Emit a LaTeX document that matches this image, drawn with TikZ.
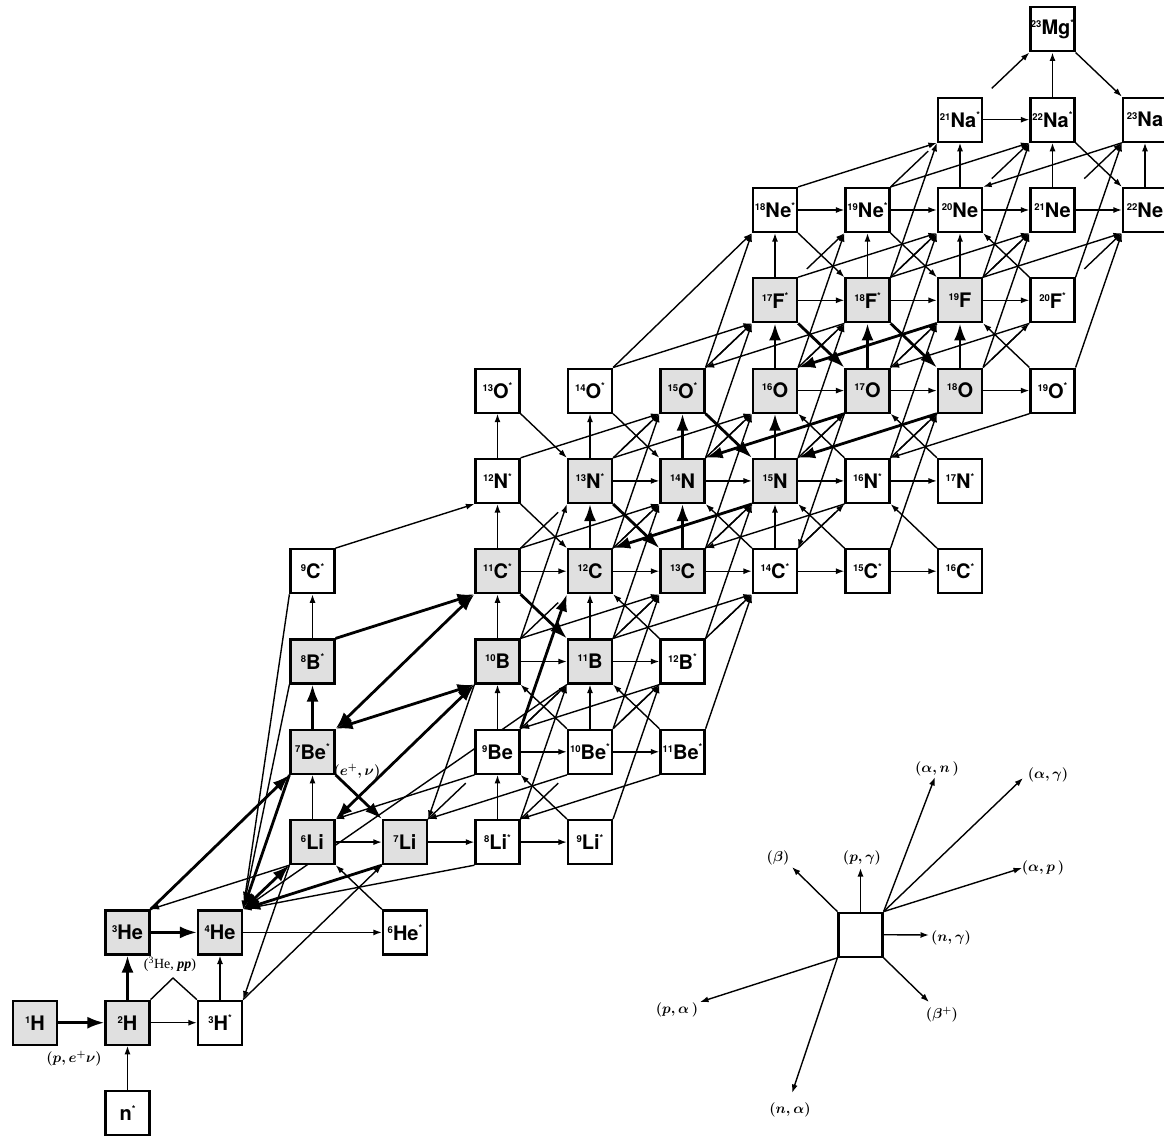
\documentclass[tikz,border=0pt]{standalone}
\usepackage{fontspec}
\setmainfont{TeX Gyre Heros}
\newfontfamily\serifr{Liberation Serif}
\usetikzlibrary{arrows.meta,calc}
\pgfdeclarelayer{bg}
\pgfsetlayers{bg,main}
\newcommand\iso[3]{\raisebox{7pt}{\fontsize{9.5}{9.5}\selectfont #1}#2\raisebox{8.5pt}{\fontsize{9.5}{9.5}\selectfont #3}}
\newcommand\nuc[5]{\node[box,#4] (#1) at ({35+92.5*#2},{-1113+90.3*#3}) {#5};}
\newcommand\agam[4]{%
  \draw[ln] (#1.north east) -- ($(#2.south west)!12pt!(#1.north east)$);
  \draw[#4] ($(#2.north east)!12pt!(#3.south west)$) -- (#3.south west);}
\tikzset{
 box/.style={draw, line width=2.2pt, minimum size=44pt, inner sep=0pt, fill=white, font=\fontsize{20}{21}\selectfont\bfseries},
 st/.style={fill=black!12},
 ar/.style={line width=1.4pt, -{Latex[length=8.5pt,width=6pt]}},
 ra/.style={line width=1.4pt, {Latex[length=8.5pt,width=6pt]}-},
 ln/.style={line width=1.4pt},
 tk/.style={line width=2.8pt, -{Latex[length=17pt,width=12pt]}},
 tkr/.style={line width=2.8pt, {Latex[length=17pt,width=12pt]}-},
 tkb/.style={line width=2.8pt, {Latex[length=17pt,width=12pt]}-{Latex[length=17pt,width=12pt]}},
 lab/.style={font=\fontsize{14}{14}\selectfont\boldmath, inner sep=0pt},
}
\begin{document}
\begin{tikzpicture}[x=1pt,y=1pt]
\useasboundingbox (0,0) rectangle (1164,-1137);
% nuclei
\nuc{nn}{1}{0}{}{\iso{}{n}{*}}
\nuc{H1}{0}{1}{st}{\iso{1}{H}{}}
\nuc{H2}{1}{1}{st}{\iso{2}{H}{}}
\nuc{H3}{2}{1}{}{\iso{3}{H}{*}}
\nuc{He3}{1}{2}{st}{\iso{3}{He}{}}
\nuc{He4}{2}{2}{st}{\iso{4}{He}{}}
\nuc{He6}{4}{2}{}{\iso{6}{He}{*}}
\nuc{Li6}{3}{3}{st}{\iso{6}{Li}{}}
\nuc{Li7}{4}{3}{st}{\iso{7}{Li}{}}
\nuc{Li8}{5}{3}{}{\iso{8}{Li}{*}}
\nuc{Li9}{6}{3}{}{\iso{9}{Li}{*}}
\nuc{Be7}{3}{4}{st}{\iso{7}{Be}{*}}
\nuc{Be9}{5}{4}{}{\iso{9}{Be}{}}
\nuc{Be10}{6}{4}{}{\iso{10}{Be}{*}}
\nuc{Be11}{7}{4}{}{\iso{11}{Be}{*}}
\nuc{B8}{3}{5}{st}{\iso{8}{B}{*}}
\nuc{B10}{5}{5}{st}{\iso{10}{B}{}}
\nuc{B11}{6}{5}{st}{\iso{11}{B}{}}
\nuc{B12}{7}{5}{}{\iso{12}{B}{*}}
\nuc{C9}{3}{6}{}{\iso{9}{C}{*}}
\nuc{C11}{5}{6}{st}{\iso{11}{C}{*}}
\nuc{C12}{6}{6}{st}{\iso{12}{C}{}}
\nuc{C13}{7}{6}{st}{\iso{13}{C}{}}
\nuc{C14}{8}{6}{}{\iso{14}{C}{*}}
\nuc{C15}{9}{6}{}{\iso{15}{C}{*}}
\nuc{C16}{10}{6}{}{\iso{16}{C}{*}}
\nuc{N12}{5}{7}{}{\iso{12}{N}{*}}
\nuc{N13}{6}{7}{st}{\iso{13}{N}{*}}
\nuc{N14}{7}{7}{st}{\iso{14}{N}{}}
\nuc{N15}{8}{7}{st}{\iso{15}{N}{}}
\nuc{N16}{9}{7}{}{\iso{16}{N}{*}}
\nuc{N17}{10}{7}{}{\iso{17}{N}{*}}
\nuc{O13}{5}{8}{}{\iso{13}{O}{*}}
\nuc{O14}{6}{8}{}{\iso{14}{O}{*}}
\nuc{O15}{7}{8}{st}{\iso{15}{O}{*}}
\nuc{O16}{8}{8}{st}{\iso{16}{O}{}}
\nuc{O17}{9}{8}{st}{\iso{17}{O}{}}
\nuc{O18}{10}{8}{st}{\iso{18}{O}{}}
\nuc{O19}{11}{8}{}{\iso{19}{O}{*}}
\nuc{F17}{8}{9}{st}{\iso{17}{F}{*}}
\nuc{F18}{9}{9}{st}{\iso{18}{F}{*}}
\nuc{F19}{10}{9}{st}{\iso{19}{F}{}}
\nuc{F20}{11}{9}{}{\iso{20}{F}{*}}
\nuc{Ne18}{8}{10}{}{\iso{18}{Ne}{*}}
\nuc{Ne19}{9}{10}{}{\iso{19}{Ne}{*}}
\nuc{Ne20}{10}{10}{}{\iso{20}{Ne}{}}
\nuc{Ne21}{11}{10}{}{\iso{21}{Ne}{}}
\nuc{Ne22}{12}{10}{}{\iso{22}{Ne}{}}
\nuc{Na21}{10}{11}{}{\iso{21}{Na}{*}}
\nuc{Na22}{11}{11}{}{\iso{22}{Na}{*}}
\nuc{Na23}{12}{11}{}{\iso{23}{Na}{}}
\nuc{Mg23}{11}{12}{}{\iso{23}{Mg}{*}}
\coordinate (peak) at (173,-978);
\begin{pgfonlayer}{bg}
\fill[white] (0,0) rectangle (1164,-1137);
% (p,gamma)
\foreach \a/\b in {nn/H2,H3/He4,Li6/Be7,B8/C9,Li8/Be9,Be9/B10,B10/C11,C11/N12,N12/O13,Be10/B11,B11/C12,N13/O14,C14/N15,F17/Ne18,F18/Ne19,F19/Ne20,Ne20/Na21,Ne21/Na22,Ne22/Na23,Na22/Mg23}
  \draw[ar] (\a.north) -- (\b.south);
\foreach \a/\b in {H2/He3,Be7/B8,C12/N13,C13/N14,N14/O15,N15/O16,O16/F17,O17/F18,O18/F19}
  \draw[tk] (\a.north) -- (\b.south);
% (n,gamma)
\foreach \a/\b in {H2/H3,He4/He6,Li6/Li7,Li7/Li8,Li8/Li9,Be9/Be10,Be10/Be11,B10/B11,B11/B12,C11/C12,C12/C13,C13/C14,C14/C15,C15/C16,N13/N14,N14/N15,N15/N16,N16/N17,O16/O17,O17/O18,O18/O19,F17/F18,F18/F19,F19/F20,Ne18/Ne19,Ne19/Ne20,Ne20/Ne21,Ne21/Ne22,Na21/Na22}
  \draw[ar] (\a.east) -- (\b.west);
\foreach \a/\b in {H1/H2,He3/He4}
  \draw[tk] (\a.east) -- (\b.west);
% beta-
\foreach \a/\b in {He6/Li6,Li9/Be9,Be10/B10,Be11/B11,B12/C12,C14/N14,C15/N15,C16/N16,N16/O16,N17/O17,O19/F19,F20/Ne20}
  \draw[ar] (\a.north west) -- (\b.south east);
% beta+
\foreach \a/\b in {N12/C12,O13/N13,O14/N14,Ne18/F18,Ne19/F19,Na22/Ne22,Mg23/Na23}
  \draw[ar] (\a.south east) -- (\b.north west);
\foreach \a/\b in {Be7/Li7,C11/B11,N13/C13,O15/N15,F17/O17,F18/O18}
  \draw[tk] (\a.south east) -- (\b.north west);
% alpha-type lines NE -> SW
\foreach \a/\b in {H3/Li7,O14/Ne18,Li8/B11,Li9/B12,Be10/C13,Be11/C14,B10/N13,B11/N14,B12/N15,C12/O15,C13/O16,C15/O18,N14/F17,N15/F18,N16/F19,O15/Ne18,O16/Ne19,O17/Ne20,O18/Ne21,O19/Ne22,F18/Na21,F19/Na22,F20/Na23,B10/C13,B11/C14,C9/N12,C11/N14,N12/O15,N13/O16,O14/F17,F17/Ne20,F18/Ne21,F19/Ne22,Ne18/Na21,Ne19/Na22}
  \draw[ar] (\a.north east) -- (\b.south west);
\foreach \a/\b in {H3/Li6,He3/Li6,Li6/Be9,Li7/Be10,Li8/Be11,Li7/B10,Be9/B12,C13/N16,N16/O19,O15/F18,O17/F20,Ne20/Na23,C14/O17}
  \draw[ra] (\a.north east) -- (\b.south west);
\foreach \a/\b in {He3/Be7,Be9/C12,B8/C11}
  \draw[tk] (\a.north east) -- (\b.south west);
\foreach \a/\b in {He4/Be7,C12/N15,N14/O17,N15/O18,O16/F19}
  \draw[tkr] (\a.north east) -- (\b.south west);
\foreach \a/\b in {He4/Li6,Li6/B10,Be7/B10,Be7/C11}
  \draw[tkb] (\a.north east) -- (\b.south west);
% alpha,gamma through a middle box
\agam{Li7}{Be9}{B11}{ar}
\agam{Li8}{Be10}{B12}{ar}
\agam{Be9}{B11}{C13}{ar}
\agam{Be10}{B12}{C14}{ar}
\agam{B10}{C12}{N14}{ar}
\agam{B11}{C13}{N15}{ar}
\agam{B12}{C14}{N16}{ar}
\agam{C11}{N13}{O15}{ar}
\agam{C12}{N14}{O16}{ar}
\agam{C13}{N15}{O17}{ar}
\agam{C14}{N16}{O18}{ar}
\agam{N13}{O15}{F17}{ar}
\agam{N14}{O16}{F18}{ar}
\agam{N15}{O17}{F19}{ar}
\agam{N16}{O18}{F20}{ar}
\agam{O15}{F17}{Ne19}{ar}
\agam{O16}{F18}{Ne20}{ar}
\agam{O17}{F19}{Ne21}{ar}
\agam{O18}{F20}{Ne22}{ar}
\agam{F18}{Ne20}{Na22}{ar}
\agam{F19}{Ne21}{Na23}{ar}
\agam{Ne19}{Na21}{Mg23}{ar}
% long lines into 4He
\foreach \a in {C9,B8,Li8,B11}
  \draw[ar] (\a.south west) -- (He4.north east);
\draw[tk] (Li7.south west) -- (He4.north east);
% d+d
\draw[ln] (H2.north east) -- (peak) -- (H3.north west);
\end{pgfonlayer}
% labels
\node[lab] (lpe) at (74,-1059) {$(p, e^{+}\nu)$};
\node[lab] (lhe) at (170,-964) {\serifr(\textsuperscript{3}He, \textbf{\textit{pp}})};
\node[lab] (lenu) at (357,-772) {$(e^{+}, \nu)$};
% legend
\node[box] (leg) at (860.5,-934.7) {};
\coordinate (Lan) at (935,-777);
\coordinate (Lag) at (1023,-778);
\coordinate (Lap) at (1022,-868);
\coordinate (Lng) at (929,-935);
\coordinate (Lpg) at (860.5,-868);
\coordinate (Lb) at (792,-867);
\coordinate (Lbp) at (929,-1002);
\coordinate (Lpa) at (700,-1002);
\coordinate (Lna) at (792,-1093);
\draw[ar] (leg.north east) -- (Lan);
\draw[ar] (leg.north east) -- (Lag);
\draw[ar] (leg.north east) -- (Lap);
\draw[ar] (leg.east) -- (Lng);
\draw[ar] (leg.north) -- (Lpg);
\draw[ar] (leg.north west) -- (Lb);
\draw[ar] (leg.south east) -- (Lbp);
\draw[ar] (leg.south west) -- (Lpa);
\draw[ar] (leg.south west) -- (Lna);
\node[lab] (tan) at (937,-769) {$(\alpha, n\,)$};
\node[lab] (tag) at (1048,-775) {$(\alpha, \gamma)$};
\node[lab] (tap) at (1043,-868) {$(\alpha, p\,)$};
\node[lab] (tng) at (951,-938) {$(n, \gamma)$};
\node[lab] (tpg) at (862,-858) {$(p, \gamma)$};
\node[lab] (tb) at (778,-858) {$(\beta)$};
\node[lab] (tbp) at (942,-1015) {$(\beta^{+})$};
\node[lab] (tpa) at (677,-1010) {$(p, \alpha\,)$};
\node[lab] (tna) at (790,-1110) {$(n, \alpha)$};
\end{tikzpicture}
\end{document}
